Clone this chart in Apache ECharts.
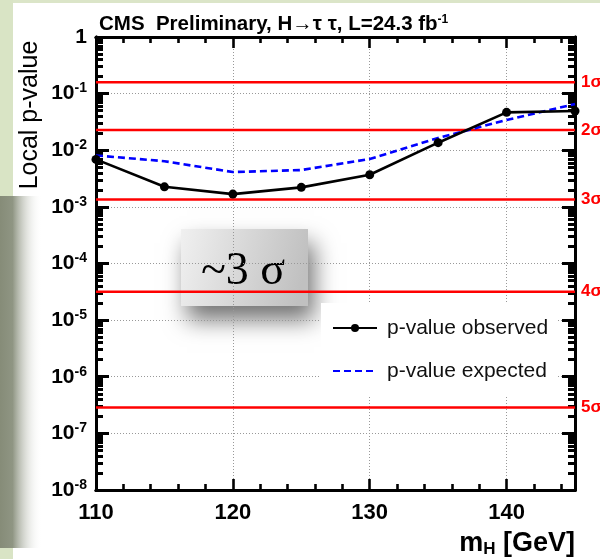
<!DOCTYPE html>
<html>
<head>
<meta charset="utf-8">
<script src="https://cdn.jsdelivr.net/npm/echarts@6/dist/echarts.min.js"></script>
<style>
  html, body { margin: 0; padding: 0; background: #fff; }
  #chart { width: 600px; height: 559px; }
</style>
</head>
<body>
<div id="chart"></div>
<script>
// Higgs mass hypotheses (GeV)
const massPoints = [110, 115, 120, 125, 130, 135, 140, 145];
// Local p-values, observed and expected
const observedP = [6.9e-3, 2.26e-3, 1.68e-3, 2.21e-3, 3.69e-3, 1.36e-2, 4.67e-2, 4.93e-2];
const expectedP = [8.1e-3, 6.4e-3, 4.12e-3, 4.47e-3, 7.0e-3, 1.65e-2, 3.42e-2, 6.55e-2];
// One-sided p-values of the n-sigma reference lines
const sigmaNames = ['1σ', '2σ', '3σ', '4σ', '5σ'];
const sigmaP = [0.1587, 0.02275, 0.00135, 3.167e-5, 2.867e-7];
// Axis ticks
const xMajorTicks = [110, 120, 130, 140];
const xMinorTicks = [112, 114, 116, 118, 122, 124, 126, 128, 132, 134, 136, 138, 142, 144];
const yDecades = [1e-8, 1e-7, 1e-6, 1e-5, 1e-4, 1e-3, 1e-2, 1e-1, 1];
const yMinorMantissas = [2, 3, 4, 5, 6, 7, 8, 9];

const yMinorTicks = [];
yDecades.slice(0, -1).forEach(d => yMinorMantissas.forEach(m => yMinorTicks.push(m * d)));

const FONT = '"Liberation Sans", Arial, Helvetica, sans-serif';
const X_MIN = 110, X_MAX = 145;

function yLabel(v) {
  const e = Math.round(Math.log10(v));
  if (e === 0) return '{b|1}';
  return '{b|10}{e|' + e + '}';
}

function xAxisCfg(pos, ticks, len, withLabels) {
  return {
    type: 'value', position: pos, min: X_MIN, max: X_MAX,
    axisLine: { show: true, onZero: false, lineStyle: { color: '#000', width: 3 } },
    axisTick: { show: true, inside: true, length: len, customValues: ticks,
                lineStyle: { color: '#000', width: 2.6 } },
    axisLabel: withLabels ? {
      show: true, customValues: xMajorTicks, margin: 12,
      fontFamily: FONT, fontWeight: 'bold', fontSize: 22, color: '#000'
    } : { show: false },
    splitLine: withLabels ? { show: true, lineStyle: { color: '#999', type: [1, 2], width: 1 } } : { show: false },
    name: withLabels ? '{m|m}{s|H}{m| [GeV]}' : '',
    nameLocation: 'end', nameGap: 0,
    nameTextStyle: {
      align: 'right', verticalAlign: 'top', padding: [39, 0, 0, 0],
      rich: {
        m: { fontFamily: FONT, fontWeight: 'bold', fontSize: 27, color: '#000' },
        s: { fontFamily: FONT, fontWeight: 'bold', fontSize: 17, color: '#000', padding: [12, 0, 0, 0] }
      }
    }
  };
}

function yAxisCfg(pos, ticks, len, withLabels) {
  return {
    type: 'log', logBase: 10, position: pos, min: 1e-8, max: 1,
    axisLine: { show: true, onZero: false, lineStyle: { color: '#000', width: 3 } },
    axisTick: { show: true, inside: true, length: len, customValues: ticks,
                lineStyle: { color: '#000', width: 3 } },
    axisLabel: withLabels ? {
      show: true, customValues: yDecades, margin: 9, formatter: yLabel,
      rich: {
        b: { fontFamily: FONT, fontWeight: 'bold', fontSize: 21, color: '#000' },
        e: { fontFamily: FONT, fontWeight: 'bold', fontSize: 14, color: '#000', padding: [0, 0, 10, 0] }
      }
    } : { show: false },
    splitLine: withLabels ? { show: true, lineStyle: { color: '#999', type: [1, 2], width: 1 } } : { show: false }
  };
}

// horizontal n-sigma reference line spanning the full mass range
function sigmaSeries(p, i) {
  return {
    name: sigmaNames[i], type: 'line', xAxisIndex: 0, yAxisIndex: 0,
    data: [[X_MIN, p], [X_MAX, p]],
    symbol: 'none', silent: true, z: 2, clip: false,
    lineStyle: { color: '#ff0000', width: 2.5 },
    endLabel: {
      show: true, distance: 6, formatter: sigmaNames[i],
      fontFamily: FONT, fontWeight: 'bold', fontSize: 17, color: '#ff0000'
    }
  };
}

const chart = echarts.init(document.getElementById('chart'), null, { renderer: 'canvas' });

const option = {
  backgroundColor: '#fff',
  animation: false,
  grid: { left: 96, right: 25, top: 37, bottom: 69, outerBoundsMode: 'none', containLabel: false },
  title: {
    text: 'CMS  Preliminary, H\u2192\u03c4 \u03c4, L=24.3 fb{e|-1}',
    left: 99, top: 14, padding: 0,
    textStyle: {
      fontFamily: FONT, fontWeight: 'bold', fontSize: 20.5, color: '#000',
      rich: { e: { fontFamily: FONT, fontWeight: 'bold', fontSize: 12, color: '#000', padding: [0, 0, 9, 0] } }
    }
  },
  legend: {
    data: [
      { name: 'p-value observed' },
      { name: 'p-value expected', itemStyle: { color: 'rgba(0,0,0,0)', borderWidth: 0 } }
    ],
    orient: 'vertical', left: 321, top: 303,
    padding: [13, 8, 13, 11],
    backgroundColor: '#fff',
    itemWidth: 44, itemHeight: 10, itemGap: 19,
    textStyle: { fontFamily: FONT, fontSize: 21, color: '#111', lineHeight: 24, padding: [0, 0, 0, 5] }
  },
  xAxis: [
    xAxisCfg('bottom', xMajorTicks, 11, true),
    xAxisCfg('bottom', xMinorTicks, 6, false),
    xAxisCfg('top', xMajorTicks, 11, false),
    xAxisCfg('top', xMinorTicks, 6, false)
  ],
  yAxis: [
    yAxisCfg('left', yDecades, 13, true),
    yAxisCfg('left', yMinorTicks, 7, false),
    yAxisCfg('right', yDecades, 13, false),
    yAxisCfg('right', yMinorTicks, 7, false)
  ],
  series: sigmaP.map(sigmaSeries).concat([
    {
      name: 'p-value expected', type: 'line', xAxisIndex: 0, yAxisIndex: 0,
      data: massPoints.map((m, i) => [m, expectedP[i]]),
      symbol: 'none', clip: false, z: 3,
      lineStyle: { color: '#0000ff', width: 2.6, type: [7, 4] },
      itemStyle: { color: '#0000ff' }
    },
    {
      name: 'p-value observed', type: 'line', xAxisIndex: 0, yAxisIndex: 0,
      data: massPoints.map((m, i) => [m, observedP[i]]),
      symbol: 'circle', symbolSize: 9, clip: false, z: 4,
      lineStyle: { color: '#000', width: 2.6 },
      itemStyle: { color: '#000' }
    }
  ]),
  graphic: [
    // slide background margins
    { type: 'rect', z: -10, silent: true, shape: { x: 0, y: 0, width: 600, height: 3 }, style: { fill: '#dbe5c8' } },
    { type: 'rect', z: -10, silent: true, shape: { x: 0, y: 0, width: 13, height: 559 }, style: { fill: '#d9e4c5' } },
    {
      type: 'rect', z: -9, silent: true, shape: { x: 0, y: 196, width: 42, height: 352 },
      style: {
        fill: new echarts.graphic.LinearGradient(0, 0, 1, 0, [
          { offset: 0, color: '#868c78' }, { offset: 0.3, color: '#8f9583' },
          { offset: 1, color: 'rgba(255,255,255,0)' }
        ])
      }
    },
    // y-axis title
    {
      type: 'text', z: 5, silent: true, x: 30, y: 115, rotation: Math.PI / 2,
      style: {
        text: 'Local p-value', fill: '#000', align: 'center', verticalAlign: 'middle',
        font: '25px "Liberation Sans", Arial, sans-serif'
      }
    },
    // annotation box
    {
      type: 'group', z: 100, silent: true,
      children: [
        {
          type: 'rect', shape: { x: 181, y: 229, width: 127, height: 77 },
          style: {
            fill: new echarts.graphic.LinearGradient(0, 0, 1, 0.4, [
              { offset: 0, color: '#f0f0f0' }, { offset: 1, color: '#c0c0c0' }
            ]),
            shadowBlur: 22, shadowOffsetX: 6, shadowOffsetY: 14, shadowColor: 'rgba(0,0,0,0.55)'
          }
        },
        {
          type: 'text', x: 243, y: 272,
          style: {
            text: '~3 \u03c3', fill: '#000', align: 'center', verticalAlign: 'middle',
            font: '46px "Liberation Serif", "DejaVu Serif", serif'
          }
        }
      ]
    }
  ]
};

chart.setOption(option);
</script>
</body>
</html>
